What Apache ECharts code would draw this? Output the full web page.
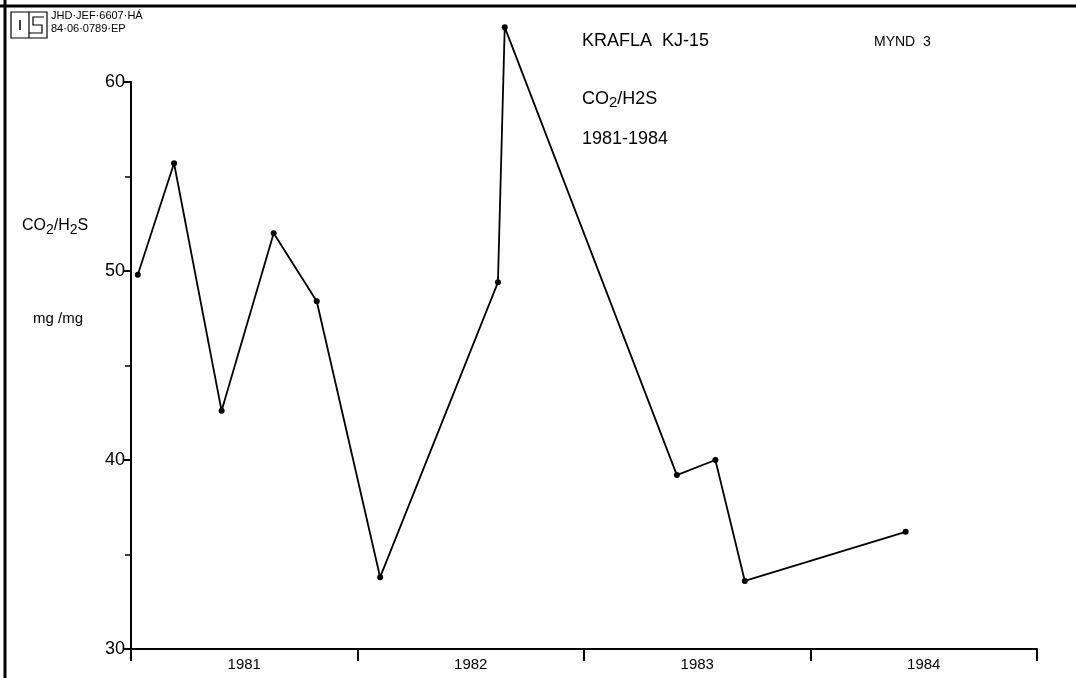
<!DOCTYPE html>
<html>
<head>
<meta charset="utf-8">
<script src="https://cdn.jsdelivr.net/npm/echarts@6/dist/echarts.min.js"></script>
<style>
  html, body { margin: 0; padding: 0; background: #fff; }
  #chart { width: 1076px; height: 678px; }
</style>
</head>
<body>
<div id="chart"></div>
<script>
// Sampling dates (decimal years) and CO2/H2S ratios, well KJ-15, Krafla
const sampleYears = [1981.03, 1981.19, 1981.40, 1981.63, 1981.82, 1982.10,
                     1982.62, 1982.65, 1983.41, 1983.58, 1983.71, 1984.42];
const ratioValues = [49.8, 55.7, 42.6, 52.0, 48.4, 33.8,
                     49.4, 62.9, 39.2, 40.0, 33.6, 36.2];
const yearLabels = ['1981', '1982', '1983', '1984'];

const FONT = 'Liberation Sans';
const chart = echarts.init(document.getElementById('chart'));

chart.setOption({
  backgroundColor: '#ffffff',
  animation: false,
  grid: { left: 131, right: 39, top: 82, bottom: 29, containLabel: false },
  xAxis: [
    {
      type: 'value', min: 1981, max: 1985, interval: 1,
      axisLine: { show: true, lineStyle: { color: '#000', width: 2 } },
      axisTick: { show: true, inside: false, length: 12, lineStyle: { color: '#000', width: 2 } },
      axisLabel: { show: false },
      splitLine: { show: false }
    },
    {
      type: 'category', position: 'bottom', data: yearLabels, boundaryGap: true,
      axisLine: { show: false }, axisTick: { show: false },
      axisLabel: { show: true, color: '#000', fontFamily: FONT, fontSize: 15, margin: 8 },
      splitLine: { show: false }
    }
  ],
  yAxis: {
    type: 'value', min: 30, max: 60, interval: 10,
    axisLine: { show: true, lineStyle: { color: '#000', width: 2 } },
    axisTick: { show: true, inside: false, length: 8, lineStyle: { color: '#000', width: 2 } },
    minorTick: { show: true, splitNumber: 2, length: 6, lineStyle: { color: '#000', width: 1.5 } },
    axisLabel: { color: '#000', fontFamily: FONT, fontSize: 18, margin: 6 },
    splitLine: { show: false }
  },
  series: [{
    type: 'line',
    xAxisIndex: 0,
    data: sampleYears.map((x, i) => [x, ratioValues[i]]),
    clip: false,
    symbol: 'circle', symbolSize: 6,
    itemStyle: { color: '#000' },
    lineStyle: { color: '#000', width: 1.8 }
  }],
  graphic: [
    // frame
    { type: 'line', shape: { x1: 5, y1: 0, x2: 5, y2: 678 }, style: { stroke: '#000', lineWidth: 3 } },
    { type: 'line', shape: { x1: 0, y1: 6, x2: 1076, y2: 6 }, style: { stroke: '#000', lineWidth: 3 } },
    // institute mark
    { type: 'rect', shape: { x: 11, y: 12, width: 36, height: 26 }, style: { fill: 'none', stroke: '#000', lineWidth: 1.2 } },
    { type: 'line', shape: { x1: 29, y1: 12, x2: 29, y2: 38 }, style: { stroke: '#000', lineWidth: 1.2 } },
    { type: 'line', shape: { x1: 20, y1: 20, x2: 20, y2: 30 }, style: { stroke: '#000', lineWidth: 1.5 } },
    { type: 'polyline', shape: { points: [[44, 17], [33, 17], [33, 25], [42, 25], [42, 33], [29, 33]] }, style: { fill: 'none', stroke: '#000', lineWidth: 1.2 } },
    { type: 'text', left: 51, top: 10, style: { text: 'JHD·JEF·6607·HÁ', fontFamily: FONT, fontSize: 11, fill: '#000' } },
    { type: 'text', left: 51, top: 23, style: { text: '84·06·0789·EP', fontFamily: FONT, fontSize: 11, fill: '#000' } },
    // titles
    { type: 'text', left: 582, top: 32, style: { text: 'KRAFLA  KJ-15', fontFamily: FONT, fontSize: 18, fill: '#000' } },
    { type: 'text', left: 874, top: 35, style: { text: 'MYND  3', fontFamily: FONT, fontSize: 14, fill: '#000' } },
    { type: 'text', left: 582, top: 90, style: {
        text: '{n|CO}{s|2}{n|/H2S}',
        rich: { n: { fontFamily: FONT, fontSize: 18, fill: '#000' },
                s: { fontFamily: FONT, fontSize: 15, fill: '#000', padding: [8, 0, 0, 0] } } } },
    { type: 'text', left: 582, top: 130, style: { text: '1981-1984', fontFamily: FONT, fontSize: 18, fill: '#000' } },
    // axis title
    { type: 'text', left: 22, top: 218, style: {
        text: '{n|CO}{s|2}{n|/H}{s|2}{n|S}',
        rich: { n: { fontFamily: FONT, fontSize: 16, fill: '#000' },
                s: { fontFamily: FONT, fontSize: 14, fill: '#000', padding: [8, 0, 0, 0] } } } },
    { type: 'text', left: 33, top: 311, style: { text: 'mg /mg', fontFamily: FONT, fontSize: 15, fill: '#000' } }
  ]
});
</script>
</body>
</html>
